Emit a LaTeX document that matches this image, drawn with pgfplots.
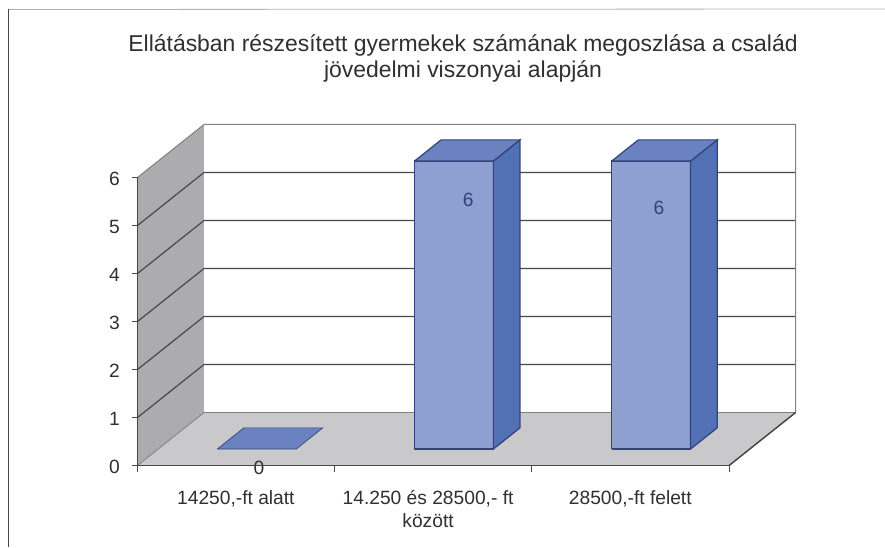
\documentclass[border=0pt]{standalone}
\usepackage{pgfplots}
\pgfplotsset{compat=1.18}
\usepackage{fontspec}
\setmainfont{Liberation Sans}
\definecolor{txt}{HTML}{303030}
\definecolor{gridc}{HTML}{484848}
\definecolor{wallc}{HTML}{ACACAE}
\definecolor{floorc}{HTML}{C9C9CB}
\definecolor{barf}{HTML}{8E9FD2}
\definecolor{bars}{HTML}{5271B4}
\definecolor{bart}{HTML}{6B82C0}
\definecolor{barl}{HTML}{33427A}
\newlength{\px}\setlength{\px}{0.75pt}
\begin{document}
\begin{tikzpicture}[x=\px,y=\px]
\path[use as bounding box] (0,0) rectangle (885,547);
\fill[white] (0,0) rectangle (885,547);
\draw[color=gray!60,line width=0.8\px] (8,537.5) -- (885,538);
\draw[color=gridc,line width=1\px] (8.5,537.5) -- (8.5,0);
\begin{axis}[
  at={(103.125pt,61.125pt)}, anchor=origin,
  x={(197.2\px,0)}, y={(66.5\px,53\px)}, z={(0,48\px)},
  xmin=0, xmax=3, ymin=0, ymax=1, zmin=0, zmax=6,
  axis lines=left, axis line style={-, color=gridc, line width=1.2\px},
  clip=false, axis on top,
  xtick={0.5,1.5,2.5},
  xticklabels={{14250,-ft alatt},{14.250 és 28500,- ft\\között},{28500,-ft felett}},
  ytick=\empty,
  ztick={0,1,2,3,4,5,6},
  major tick length=0pt,
  x tick label style={font=\fontsize{14.4}{17.2}\selectfont, text=txt, align=center, yshift=-20\px, xshift=6\px},
  z tick label style={font=\fontsize{14.4}{17}\selectfont, text=txt, xshift=-13\px, yshift=2\px},
  /pgf/number format/assume math mode=true,
  every axis plot/.append style={mark=none, forget plot},
]
% walls and floor
\addplot3[fill=wallc, draw=none] coordinates {(0,0,0)(0,1,0)(0,1,6)(0,0,6)(0,0,0)};
\addplot3[fill=white, draw=none] coordinates {(0,1,0)(3,1,0)(3,1,6)(0,1,6)(0,1,0)};
\addplot3[fill=floorc, draw=none] coordinates {(0,0,0)(3,0,0)(3,1,0)(0,1,0)(0,0,0)};
% grid lines
\addplot3[color=gridc, line width=1.2\px] coordinates {(0,0,1)(0,1,1)(3,1,1)};
\addplot3[color=gridc, line width=1.2\px] coordinates {(0,0,2)(0,1,2)(3,1,2)};
\addplot3[color=gridc, line width=1.2\px] coordinates {(0,0,3)(0,1,3)(3,1,3)};
\addplot3[color=gridc, line width=1.2\px] coordinates {(0,0,4)(0,1,4)(3,1,4)};
\addplot3[color=gridc, line width=1.2\px] coordinates {(0,0,5)(0,1,5)(3,1,5)};
\addplot3[color=gray, line width=1\px] coordinates {(0,0,6)(0,1,6)(3,1,6)(3,1,0)};
\addplot3[color=gray, line width=0.8\px] coordinates {(0,0,0)(0,1,0)(3,1,0)};
\addplot3[color=gridc, line width=1.2\px] coordinates {(3,1,0)(3,0,0)};
% tick marks
\addplot3[color=gridc, line width=1\px] coordinates {(-0.03,0,0)(0,0,0)};
\addplot3[color=gridc, line width=1\px] coordinates {(-0.03,0,1)(0,0,1)};
\addplot3[color=gridc, line width=1\px] coordinates {(-0.03,0,2)(0,0,2)};
\addplot3[color=gridc, line width=1\px] coordinates {(-0.03,0,3)(0,0,3)};
\addplot3[color=gridc, line width=1\px] coordinates {(-0.03,0,4)(0,0,4)};
\addplot3[color=gridc, line width=1\px] coordinates {(-0.03,0,5)(0,0,5)};
\addplot3[color=gridc, line width=1\px] coordinates {(-0.03,0,6)(0,0,6)};
\addplot3[color=gridc, line width=1\px] coordinates {(0,0,0)(0,0,-0.13)};
\addplot3[color=gridc, line width=1\px] coordinates {(1,0,0)(1,0,-0.13)};
\addplot3[color=gridc, line width=1\px] coordinates {(2,0,0)(2,0,-0.13)};
\addplot3[color=gridc, line width=1\px] coordinates {(3,0,0)(3,0,-0.13)};
% bar 1, value 0
\addplot3[fill=bart, draw=barl, line width=0.7\px] coordinates {(0.3,0.31,0)(0.7,0.31,0)(0.7,0.71,0)(0.3,0.71,0)(0.3,0.31,0)};
% bar 2, value 6
\addplot3[fill=barf, draw=barl, line width=1.2\px] coordinates {(1.3,0.31,0)(1.7,0.31,0)(1.7,0.31,6)(1.3,0.31,6)(1.3,0.31,0)};
\addplot3[fill=bars, draw=barl, line width=1.2\px] coordinates {(1.7,0.31,0)(1.7,0.71,0)(1.7,0.71,6)(1.7,0.31,6)(1.7,0.31,0)};
\addplot3[fill=bart, draw=barl, line width=1.2\px] coordinates {(1.3,0.31,6)(1.7,0.31,6)(1.7,0.71,6)(1.3,0.71,6)(1.3,0.31,6)};
% bar 3, value 6
\addplot3[fill=barf, draw=barl, line width=1.2\px] coordinates {(2.3,0.31,0)(2.7,0.31,0)(2.7,0.31,6)(2.3,0.31,6)(2.3,0.31,0)};
\addplot3[fill=bars, draw=barl, line width=1.2\px] coordinates {(2.7,0.31,0)(2.7,0.71,0)(2.7,0.71,6)(2.7,0.31,6)(2.7,0.31,0)};
\addplot3[fill=bart, draw=barl, line width=1.2\px] coordinates {(2.3,0.31,6)(2.7,0.31,6)(2.7,0.71,6)(2.3,0.71,6)(2.3,0.31,6)};
% data labels
\node[font=\fontsize{14.4}{17}\selectfont, text=txt] at (axis cs:0.616,0,-0.05) {0};
\node[font=\fontsize{14.4}{17}\selectfont, text=barl] at (axis cs:1.572,0.31,5.19) {6};
\node[font=\fontsize{14.4}{17}\selectfont, text=barl] at (axis cs:2.54,0.31,5.02) {6};
\end{axis}
\node[font=\fontsize{17.2}{21}\selectfont, text=txt, align=center] at (463,489) {Ellátásban részesített gyermekek számának megoszlása a család\\[-1.5pt]jövedelmi viszonyai alapján};
\end{tikzpicture}
\end{document}
